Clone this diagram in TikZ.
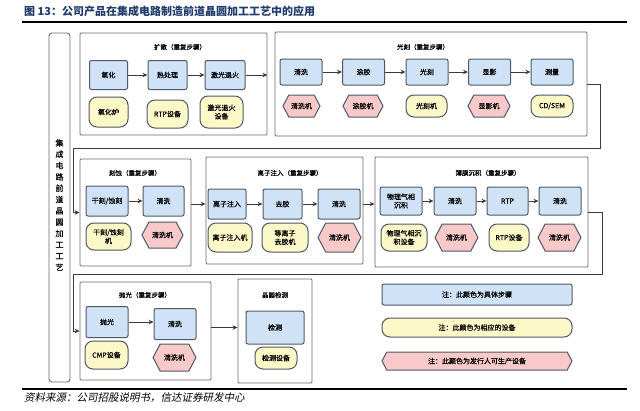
\documentclass[tikz,border=0pt]{standalone}
\usepackage{fontspec}
\setmainfont{Noto Sans CJK SC}
\newfontfamily\srcfont[FakeSlant=0.2]{Noto Sans CJK SC}
\newfontfamily\boxcjk[FakeBold=0.5]{Noto Sans CJK SC}
\usetikzlibrary{arrows.meta,shapes.symbols}

\definecolor{stepblue}{HTML}{CFE2F6}
\definecolor{devyellow}{HTML}{FDF8C8}
\definecolor{ownred}{HTML}{F7C9C9}
\definecolor{edgegray}{HTML}{4E5866}
\definecolor{framegray}{HTML}{6A6A6A}
\definecolor{linegray}{HTML}{3A3A3A}
\definecolor{titleblue}{HTML}{1F3B6B}

\tikzset{
  boxfont/.style={font=\fontsize{7}{8.5}\boxcjk},
  stepbox/.style={draw=edgegray, fill=stepblue, line width=1pt, rounded corners=2pt,
    minimum width=41pt, minimum height=27pt, inner sep=1pt, align=center, boxfont},
  devbox/.style={draw=edgegray, fill=devyellow, line width=1pt, rounded corners=8pt,
    minimum width=42pt, minimum height=26pt, inner sep=1pt, align=center, boxfont},
  ownbox/.style={shape=signal, signal to=east and west, signal pointer angle=124,
    draw=edgegray, fill=ownred, line width=1pt, minimum width=42pt, minimum height=26pt,
    inner sep=1pt, align=center, boxfont},
  stagebox/.style={draw=framegray, line width=0.9pt, rounded corners=1pt, inner sep=0pt},
  stagetitle/.style={font=\fontsize{6.5}{7}\boxcjk, inner sep=0pt},
}

\begin{document}
\begin{tikzpicture}[x=1pt, y=-1pt, >={Stealth[length=5pt,width=4.5pt]}]
    \useasboundingbox (0,0) rectangle (640,410);

    % Title and rules
    \node[anchor=west, font=\fontsize{11}{12}\selectfont\bfseries, text=titleblue, inner sep=0pt]
      (title) at (24,11) {图 13：公司产品在集成电路制造前道晶圆加工工艺中的应用};
    \draw[line width=2pt] (22,21.5) -- (627,21.5);
    \draw[line width=1.5pt] (22,389) -- (627,389);
    \node[anchor=west, font=\fontsize{10.5}{12}\srcfont, inner sep=0pt]
      (source) at (24,398) {资料来源：公司招股说明书，信达证券研发中心};

    % Side label
    \node[stagebox, rounded corners=3pt, minimum width=21pt, minimum height=349pt] (side) at (59.5,207.5) {};
    \node[align=center, font=\fontsize{8}{11.3}\boxcjk, inner sep=0pt] (sidetext) at (59.5,205)
      {集\\成\\电\\路\\前\\道\\晶\\圆\\加\\工\\工\\艺};

    % Diffusion
    \node[stagebox, minimum width=187pt, minimum height=102pt] (kuoframe) at (173.5,84) {};
    \node[stagetitle] (kuotitle) at (180,47) {扩散（重复步骤）};
    \node[stepbox, minimum width=38pt, minimum height=29pt] (yh) at (108.5,75) {氧化};
    \node[stepbox, minimum width=39pt, minimum height=29pt] (rcl) at (167.5,75) {热处理};
    \node[stepbox, minimum width=40pt, minimum height=29pt] (jgth) at (225,75) {激光退火};
    \node[devbox, minimum width=39pt, minimum height=30pt] (yhl) at (108.5,112) {氧化炉};
    \node[devbox, minimum width=41pt, minimum height=28pt] (rtpa) at (167.5,114) {RTP设备};
    \node[devbox, minimum width=43pt, minimum height=32pt] (jgsb) at (221.5,112) {激光退火\\设备};
    \draw[->, linegray, line width=0.9pt] (yh) -- (rcl);
    \draw[->, linegray, line width=0.9pt] (rcl) -- (jgth);
    \draw[->, linegray, line width=0.9pt] (jgth) -- (kuoframe.east |- jgth);

    % Lithography
    \node[stagebox, minimum width=312pt, minimum height=104pt] (gkframe) at (431,84) {};
    \node[stagetitle] (gktitle) at (423,47) {光刻（重复步骤）};
    \node[stepbox, minimum width=42pt, minimum height=26pt] (gka) at (301,72) {清洗};
    \node[stepbox, minimum width=42pt, minimum height=26pt] (gkb) at (363.5,72) {涂胶};
    \node[stepbox, minimum width=42pt, minimum height=26pt] (gkc) at (427,72) {光刻};
    \node[stepbox, minimum width=42pt, minimum height=26pt] (gkd) at (489.5,72) {显影};
    \node[stepbox, minimum width=42pt, minimum height=26pt] (gke) at (552,72) {测量};
    \node[ownbox, minimum width=37pt, minimum height=22pt] (gkae) at (301.5,106) {清洗机};
    \node[ownbox, minimum width=40pt, minimum height=22pt] (gkbe) at (363,106) {涂胶机};
    \node[devbox, minimum width=41pt, minimum height=22pt] (gkce) at (426.5,106) {光刻机};
    \node[ownbox, minimum width=42pt, minimum height=22pt] (gkde) at (489,106) {显影机};
    \node[devbox, minimum width=42pt, minimum height=22pt] (gkee) at (552,106) {CD/SEM};
    \draw[->, linegray, line width=0.9pt] (gka) -- (gkb);
    \draw[->, linegray, line width=0.9pt] (gkb) -- (gkc);
    \draw[->, linegray, line width=0.9pt] (gkc) -- (gkd);
    \draw[->, linegray, line width=0.9pt] (gkd) -- (gke);

    % Etching
    \node[stagebox, minimum width=111pt, minimum height=107pt] (ksframe) at (135.5,212.5) {};
    \node[stagetitle] (kstitle) at (135,173) {刻蚀（重复步骤）};
    \node[stepbox, minimum width=42pt, minimum height=30pt] (ksa) at (107,201) {干刻/蚀刻};
    \node[stepbox, minimum width=41pt, minimum height=30pt] (ksb) at (163.5,201) {清洗};
    \node[devbox, minimum width=45pt, minimum height=27pt] (ksae) at (108.5,236.5) {干刻/蚀刻\\机};
    \node[ownbox, minimum width=41pt, minimum height=26pt] (ksbe) at (162.5,235) {清洗机};
    \draw[->, linegray, line width=0.9pt] (ksa) -- (ksb);

    % Ion implantation
    \node[stagebox, minimum width=157pt, minimum height=107pt] (lzframe) at (284.5,210.5) {};
    \node[stagetitle] (lztitle) at (290,173) {离子注入（重复步骤）};
    \node[stepbox, minimum width=38pt, minimum height=30pt] (lza) at (227,204) {离子注入};
    \node[stepbox, minimum width=39pt, minimum height=30pt] (lzb) at (282.5,204) {去胶};
    \node[stepbox, minimum width=42pt, minimum height=30pt] (lzc) at (339,204) {清洗};
    \node[devbox, minimum width=44pt, minimum height=29pt] (lzae) at (230,237.5) {离子注入机};
    \node[devbox, minimum width=46pt, minimum height=29pt] (lzbe) at (285,237.5) {等离子\\去胶机};
    \node[ownbox, minimum width=43pt, minimum height=29pt] (lzce) at (339.5,237.5) {清洗机};
    \draw[->, linegray, line width=0.9pt] (lza) -- (lzb);
    \draw[->, linegray, line width=0.9pt] (lzb) -- (lzc);

    % Thin film deposition
    \node[stagebox, minimum width=213pt, minimum height=110pt] (bmframe) at (481.5,212) {};
    \node[stagetitle] (bmtitle) at (488,173) {薄膜沉积（重复步骤）};
    \node[stepbox, minimum width=42pt, minimum height=28pt] (bma) at (401,201) {物理气相\\沉积};
    \node[stepbox, minimum width=42pt, minimum height=28pt] (bmb) at (455,201) {清洗};
    \node[stepbox, minimum width=41pt, minimum height=28pt] (bmc) at (507.5,201) {RTP};
    \node[stepbox, minimum width=42pt, minimum height=28pt] (bmd) at (560,201) {清洗};
    \node[devbox, minimum width=46pt, minimum height=27pt] (bmae) at (404,237.5) {物理气相沉\\积设备};
    \node[ownbox, minimum width=43pt, minimum height=27pt] (bmbe) at (456.5,237.5) {清洗机};
    \node[devbox, minimum width=40pt, minimum height=27pt] (bmce) at (509,237.5) {RTP设备};
    \node[ownbox, minimum width=43pt, minimum height=27pt] (bmde) at (559.5,237.5) {清洗机};
    \draw[->, linegray, line width=0.9pt] (bma) -- (bmb);
    \draw[->, linegray, line width=0.9pt] (bmb) -- (bmc);
    \draw[->, linegray, line width=0.9pt] (bmc) -- (bmd);

    % Polishing
    \node[stagebox, minimum width=131pt, minimum height=98pt] (pgframe) at (145.5,331) {};
    \node[stagetitle] (pgtitle) at (145,295) {抛光（重复步骤）};
    \node[stepbox, minimum width=42pt, minimum height=31pt] (pga) at (107,322) {抛光};
    \node[stepbox, minimum width=42pt, minimum height=31pt] (pgb) at (175,324) {清洗};
    \node[devbox, minimum width=43pt, minimum height=28pt] (pgae) at (106.5,355) {CMP设备};
    \node[ownbox, minimum width=43pt, minimum height=27pt] (pgbe) at (174.5,357.5) {清洗机};
    \draw[->, linegray, line width=0.9pt] (pga) -- (pga -| pgb.west);

    % Wafer inspection
    \node[stagebox, minimum width=74pt, minimum height=104pt] (jcframe) at (275,331) {};
    \node[stagetitle] (jctitle) at (275,295) {晶圆检测};
    \node[stepbox, minimum width=58pt, minimum height=33pt] (jc) at (275,327.5) {检测};
    \node[devbox, minimum width=42pt, minimum height=22pt] (jce) at (276,358) {检测设备};

    % Stage to stage
    \coordinate (turna) at (600,148);
    \coordinate (turnb) at (73,148);
    \coordinate (turnc) at (602,274);
    \coordinate (turnd) at (73,274);
    \draw[->, linegray, line width=0.9pt] (gkframe.east) -| (turna) -- (turnb) |- (ksframe.west);
    \draw[->, linegray, line width=0.9pt] (ksframe.east |- lza) -- (lzframe.west |- lza);
    \draw[->, linegray, line width=0.9pt] (lzframe.east |- lza) -- (bmframe.west |- lza);
    \draw[->, linegray, line width=0.9pt] (bmframe.east) -| (turnc) -- (turnd) |- (pgframe.west);
    \draw[->, linegray, line width=0.9pt] (pgframe.east |- jc) -- (jcframe.west |- jc);

    % Legend
    \node[stepbox, minimum width=190pt, minimum height=21pt] (lgstep) at (477,294.5) {注：此颜色为具体步骤};
    \node[devbox, minimum width=190pt, minimum height=19pt] (lgdev) at (477,327.5) {注：此颜色为相应的设备};
    \node[ownbox, minimum width=190pt, minimum height=18pt] (lgown) at (477,361) {注：此颜色为发行人可生产设备};

\end{tikzpicture}
\end{document}
